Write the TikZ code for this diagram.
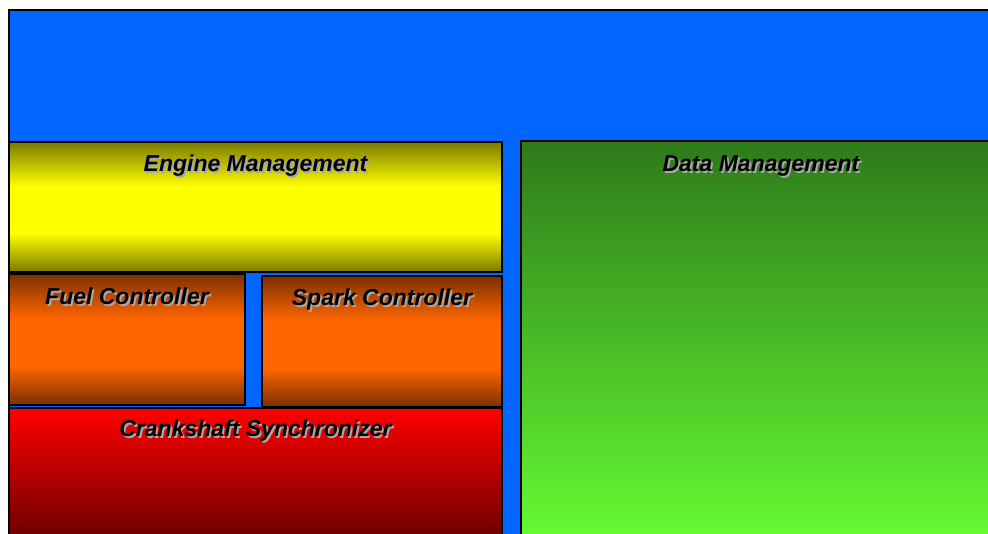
\documentclass[tikz,border=0pt]{standalone}
\usepackage{fontspec}
\setmainfont{Liberation Sans}
\usetikzlibrary{calc}
\definecolor{bgblue}{HTML}{0066FF}
\definecolor{olive}{HTML}{7A7A00}
\definecolor{yel}{HTML}{FFFF00}
\definecolor{brn}{HTML}{7A3000}
\definecolor{org}{HTML}{FF6600}
\definecolor{rd}{HTML}{FF0000}
\definecolor{drd}{HTML}{700000}
\definecolor{dgr}{HTML}{2E7A1A}
\definecolor{lgr}{HTML}{66FF33}
\definecolor{shadowgray}{HTML}{A8A8A8}
\pgfdeclareverticalshading{yellowband}{100bp}{color(0bp)=(olive); color(25bp)=(olive); color(40bp)=(yel); color(58bp)=(yel); color(75bp)=(olive); color(100bp)=(olive)}
\pgfdeclareverticalshading{orangeband}{100bp}{color(0bp)=(brn); color(25bp)=(brn); color(40bp)=(org); color(58bp)=(org); color(75bp)=(brn); color(100bp)=(brn)}
\tikzset{
  blk/.style={draw=black, line width=1.4pt, inner sep=0pt, outer sep=0pt, anchor=north west, rectangle},
  lbltxt/.style={font=\fontsize{23}{27}\selectfont\bfseries\itshape, inner sep=0pt},
}
\newcommand{\shlabel}[3]{%
  \node[lbltxt, text=shadowgray] (#1s) at ($(#2)+(1.8,1.8)$) {#3};
  \node[lbltxt, text=black] (#1) at (#2) {#3};
}
\begin{document}
\begin{tikzpicture}[x=1pt,y=-1pt]
\useasboundingbox (0,0) rectangle (988,533);
\clip (0,0) rectangle (988,533);
\fill[white] (0,0) rectangle (988,533);
\node[blk, fill=bgblue, minimum width=1000pt, minimum height=560pt] (sys) at (9,10) {};
\node[blk, shading=yellowband, minimum width=493pt, minimum height=130pt] (em) at (9,142) {};
\node[blk, shading=axis, top color=dgr, bottom color=lgr, minimum width=480pt, minimum height=410pt] (dm) at (521,141) {};
\node[blk, shading=orangeband, minimum width=236pt, minimum height=131pt] (fc) at (9,274) {};
\node[blk, shading=orangeband, minimum width=240pt, minimum height=131pt] (sc) at (262,276) {};
\node[blk, shading=axis, top color=rd, bottom color=drd, minimum width=493pt, minimum height=127pt] (cs) at (9,408) {};
\shlabel{emt}{$(em.north)+(0,24)$}{Engine Management}
\shlabel{dmt}{$(dm.north)+(0,25)$}{Data Management}
\shlabel{fct}{$(fc.north)+(0,22.5)$}{Fuel Controller}
\shlabel{sct}{$(sc.north)+(0,23.5)$}{Spark Controller}
\shlabel{cst}{$(cs.north)+(0,23)$}{Crankshaft Synchronizer}
\end{tikzpicture}
\end{document}
